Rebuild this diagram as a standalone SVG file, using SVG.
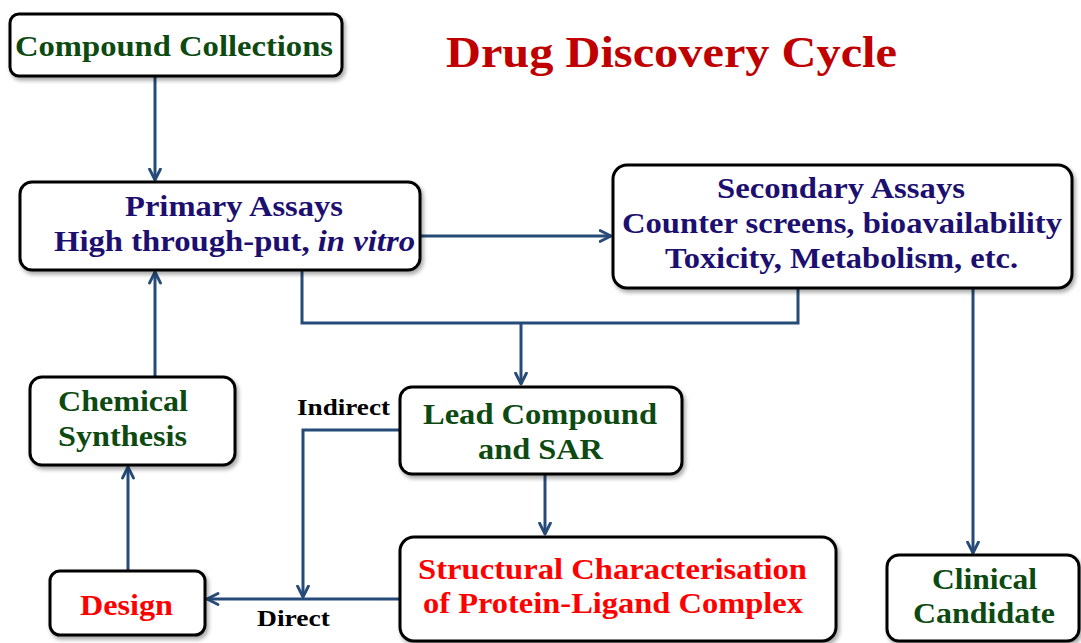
<svg xmlns="http://www.w3.org/2000/svg" width="1081" height="643" viewBox="0 0 1081 643">
<defs>
<filter id="sh" x="-10%" y="-10%" width="125%" height="130%">
<feGaussianBlur in="SourceAlpha" stdDeviation="2"/>
<feOffset dx="2" dy="3" result="b"/>
<feComponentTransfer><feFuncA type="linear" slope="0.35"/></feComponentTransfer>
<feMerge><feMergeNode/><feMergeNode in="SourceGraphic"/></feMerge>
</filter>
<marker id="ah" viewBox="0 0 14 14" refX="12.5" refY="7" markerWidth="14" markerHeight="14" markerUnits="userSpaceOnUse" orient="auto">
<path d="M1.5,1.5 L12.5,7 L1.5,12.5" fill="none" stroke="#264b78" stroke-width="2.8" stroke-linecap="round" stroke-linejoin="round"/>
</marker>
</defs>
<style>
.box{fill:#fff;stroke:#000;stroke-width:3;filter:url(#sh)}
.t{font-family:"Liberation Serif","Times New Roman",serif;font-weight:bold;font-size:30px;text-anchor:middle}
.s{text-anchor:start}
.g{fill:#0d4a12}
.n{fill:#1c0f70}
.r{fill:#ff0000}
.c{fill:none;stroke:#264b78;stroke-width:3}
.lbl{font-family:"Liberation Serif","Times New Roman",serif;font-weight:bold;font-size:23px;fill:#000}
</style>
<rect width="1081" height="643" fill="#fff"/>
<text x="671.5" y="67" font-family="Liberation Serif, serif" font-weight="bold" font-size="44" fill="#c00000" text-anchor="middle" textLength="451" lengthAdjust="spacingAndGlyphs">Drug Discovery Cycle</text>
<g id="connectors">
<path class="c" d="M155,76 V180" marker-end="url(#ah)"/>
<path class="c" d="M420,236 H611" marker-end="url(#ah)"/>
<path class="c" d="M302,270 V323 H798 V288"/>
<path class="c" d="M521,323 V384" marker-end="url(#ah)"/>
<path class="c" d="M973,288 V553" marker-end="url(#ah)"/>
<path class="c" d="M545,474 V534" marker-end="url(#ah)"/>
<path class="c" d="M400,430 H303 V597" marker-end="url(#ah)"/>
<path class="c" d="M400,599 H207" marker-end="url(#ah)"/>
<path class="c" d="M128,571 V467" marker-end="url(#ah)"/>
<path class="c" d="M155,377 V272" marker-end="url(#ah)"/>
<text class="lbl" x="297" y="415" textLength="93" lengthAdjust="spacingAndGlyphs">Indirect</text>
<text class="lbl" x="257" y="626" textLength="73" lengthAdjust="spacingAndGlyphs">Direct</text>
</g>
<g id="compound">
<rect class="box" x="10" y="14" width="332" height="62" rx="9"/>
<text class="t g" x="174" y="56" textLength="318" lengthAdjust="spacingAndGlyphs">Compound Collections</text>
</g>
<g id="primary">
<rect class="box" x="20" y="182" width="400" height="88" rx="12"/>
<text class="t n" x="234" y="216" textLength="218" lengthAdjust="spacingAndGlyphs">Primary Assays</text>
<text class="t n" x="234.5" y="251" textLength="361" lengthAdjust="spacingAndGlyphs">High through-put, <tspan font-style="italic">in vitro</tspan></text>
</g>
<g id="secondary">
<rect class="box" x="613" y="165" width="459" height="123" rx="14"/>
<text class="t n" x="841" y="198" textLength="248" lengthAdjust="spacingAndGlyphs">Secondary Assays</text>
<text class="t n" x="842" y="233" textLength="440" lengthAdjust="spacingAndGlyphs">Counter screens, bioavailability</text>
<text class="t n" x="841.5" y="268" textLength="353" lengthAdjust="spacingAndGlyphs">Toxicity, Metabolism, etc.</text>
</g>
<g id="chemical">
<rect class="box" x="30" y="377" width="205" height="88" rx="12"/>
<text class="t s g" x="58" y="411" textLength="130" lengthAdjust="spacingAndGlyphs">Chemical</text>
<text class="t s g" x="58" y="446" textLength="129" lengthAdjust="spacingAndGlyphs">Synthesis</text>
</g>
<g id="lead">
<rect class="box" x="400" y="387" width="282" height="87" rx="12"/>
<text class="t g" x="540" y="424" textLength="234" lengthAdjust="spacingAndGlyphs">Lead Compound</text>
<text class="t g" x="540.5" y="459" textLength="125" lengthAdjust="spacingAndGlyphs">and SAR</text>
</g>
<g id="structural">
<rect class="box" x="400" y="537" width="436" height="104" rx="14"/>
<text class="t r" x="612.5" y="579" textLength="389" lengthAdjust="spacingAndGlyphs">Structural Characterisation</text>
<text class="t r" x="613" y="613" textLength="380" lengthAdjust="spacingAndGlyphs">of Protein-Ligand Complex</text>
</g>
<g id="design">
<rect class="box" x="50" y="571" width="155" height="64" rx="10"/>
<text class="t r" x="126.5" y="615" textLength="93" lengthAdjust="spacingAndGlyphs">Design</text>
</g>
<g id="clinical">
<rect class="box" x="887" y="555" width="192" height="86" rx="12"/>
<text class="t g" x="984.5" y="589" textLength="105" lengthAdjust="spacingAndGlyphs">Clinical</text>
<text class="t g" x="984" y="623" textLength="142" lengthAdjust="spacingAndGlyphs">Candidate</text>
</g>
</svg>
